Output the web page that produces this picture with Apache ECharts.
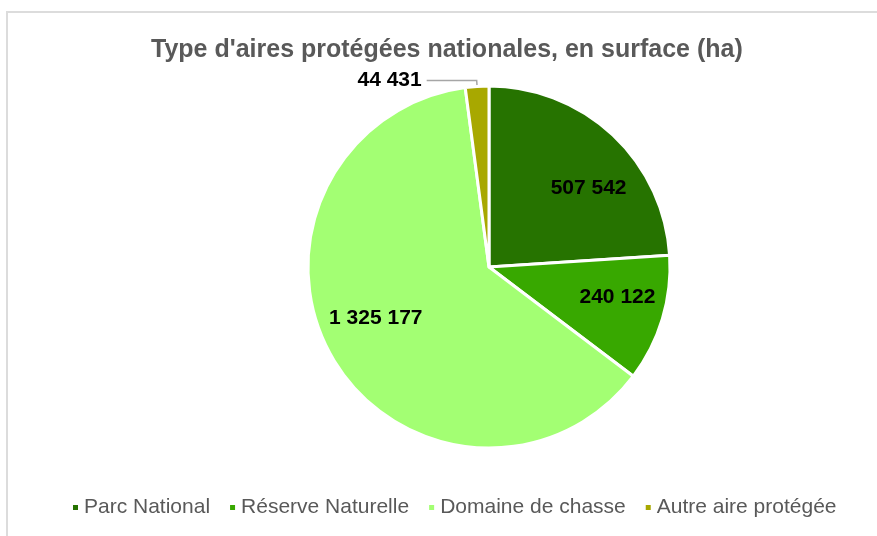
<!DOCTYPE html>
<html>
<head>
<meta charset="utf-8">
<script src="https://cdn.jsdelivr.net/npm/echarts@6/dist/echarts.min.js"></script>
<style>
  html, body { margin: 0; padding: 0; background: #fff; overflow: hidden; }
  #frame { position: absolute; left: 6px; top: 11px; width: 900px; height: 600px; border: 2px solid #dcdcdc; }
  #main { position: absolute; left: 0; top: 0; width: 877px; height: 536px; }
</style>
</head>
<body>
<div id="frame"></div>
<div id="main"></div>
<script>
// données du graphique
const categories = ['Parc National', 'Réserve Naturelle', 'Domaine de chasse', 'Autre aire protégée'];
const surfaces = [507542, 240122, 1325177, 44431];
const colors = ['#267300', '#38a800', '#a3ff73', '#a8a800'];
// décalage des étiquettes intérieures (placement "ajusté" d'Excel)
const labelOffsets = [[10, 17], [3, -7], [0, -15], [0, 0]];

const FONT = "'Liberation Sans', Arial, sans-serif";

// 1 325 177 -> séparateur de milliers espace
function fmt(v) {
  return String(v).replace(/\B(?=(\d{3})+(?!\d))/g, ' ');
}

let chartDom = document.getElementById('main');
let myChart = echarts.init(chartDom);
let option;

const visibleData = categories.map((name, i) => ({
  name: name,
  value: surfaces[i],
  itemStyle: { color: colors[i] },
  // seule la petite part a son étiquette à l'extérieur
  label: { show: i === 3 },
  labelLine: { show: i === 3 }
}));

const labelData = categories.map((name, i) => ({
  name: name,
  value: surfaces[i],
  label: { show: i !== 3, offset: labelOffsets[i] }
}));

option = {
  animation: false,
  title: {
    text: "Type d'aires protégées nationales, en surface (ha)",
    left: 146,
    top: 33,
    textStyle: { fontFamily: FONT, fontSize: 25, fontWeight: 'bold', color: '#595959' }
  },
  legend: {
    data: categories,
    left: 66,
    top: 492,
    icon: 'rect',
    itemWidth: 7,
    itemHeight: 7,
    itemGap: 18,
    textStyle: { fontFamily: FONT, fontSize: 21, color: '#595959' }
  },
  series: [
    {
      name: 'Surface',
      type: 'pie',
      center: [489, 267],
      radius: [0, 181],
      startAngle: 90,
      clockwise: true,
      itemStyle: { borderColor: '#fff', borderWidth: 3 },
      label: {
        position: 'outside',
        formatter: p => fmt(p.value),
        fontFamily: FONT, fontSize: 21, fontWeight: 'bold', color: '#000'
      },
      labelLine: { length: 6, length2: 50, smooth: false, lineStyle: { color: '#a6a6a6', width: 1.5 } },
      emphasis: { disabled: true },
      data: visibleData
    },
    {
      // série transparente pour placer les étiquettes intérieures
      name: 'Etiquettes',
      type: 'pie',
      center: [489, 267],
      radius: [75, 181],
      startAngle: 90,
      clockwise: true,
      silent: true,
      itemStyle: { color: 'rgba(0,0,0,0)' },
      label: {
        position: 'inside',
        formatter: p => fmt(p.value),
        fontFamily: FONT, fontSize: 21, fontWeight: 'bold', color: '#000'
      },
      labelLine: { show: false },
      emphasis: { disabled: true },
      data: labelData
    }
  ]
};

option && myChart.setOption(option);
</script>
</body>
</html>
